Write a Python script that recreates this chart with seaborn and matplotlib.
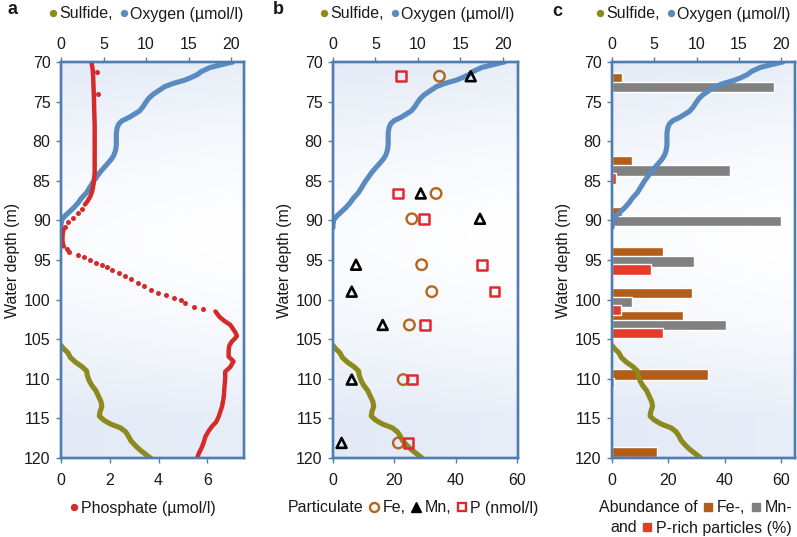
import numpy as np
import pandas as pd
import matplotlib
matplotlib.use("Agg")
import matplotlib.pyplot as plt
import seaborn as sns
from matplotlib.lines import Line2D

# ---------------- data ----------------
oxygen_depth = [70.0, 70.3, 70.7, 71.2, 71.6, 72.0, 72.3, 72.7, 73.1, 73.6, 74.1, 74.6,
                75.2, 75.7, 76.2, 76.6, 77.0, 77.4, 77.8, 78.3, 79.0, 79.8, 80.5, 81.2,
                81.8, 82.3, 82.8, 83.4, 83.9, 84.5, 85.1, 85.8, 86.5, 87.2, 87.8, 88.4,
                88.9, 89.4, 89.9, 90.5, 90.9]
oxygen = [20.2, 19.0, 17.5, 16.5, 16.0, 15.2, 14.5, 13.2, 12.2, 11.5, 10.8, 10.3,
          9.9, 9.6, 9.2, 8.6, 8.0, 7.2, 6.8, 6.6, 6.5, 6.5, 6.5, 6.4,
          6.2, 5.9, 5.5, 5.0, 4.6, 4.2, 3.8, 3.4, 3.0, 2.4, 2.0, 1.5,
          1.0, 0.5, 0.1, 0.0, 0.0]

sulfide_depth = [105.8, 106.2, 106.7, 107.3, 107.9, 108.5, 109.0, 109.6, 110.2, 110.8,
                 111.5, 112.2, 112.9, 113.5, 114.1, 114.7, 115.2, 115.7, 116.2, 116.7,
                 117.2, 117.8, 118.4, 119.0, 119.5, 120.0]
sulfide = [0.0, 0.3, 0.8, 1.1, 1.7, 2.5, 3.0, 3.1, 3.3, 3.6,
           4.1, 4.4, 4.7, 4.8, 4.6, 4.5, 5.0, 5.8, 7.0, 7.6,
           7.9, 8.2, 8.7, 9.3, 9.9, 10.5]

# phosphate (umol/l): dense profile segments and single measurement dots
phos_upper_depth = [70.0, 71.0, 72.0, 73.0, 74.5, 76.0, 78.0, 80.0, 82.0, 84.0,
                    85.5, 86.3, 87.0, 87.6, 88.0]
phos_upper = [1.25, 1.30, 1.32, 1.33, 1.35, 1.36, 1.38, 1.38, 1.38, 1.38,
              1.33, 1.28, 1.20, 1.08, 0.98]
phos_min_depth = [91.2, 91.7, 92.3, 92.9, 93.3]
phos_min = [0.10, 0.07, 0.06, 0.07, 0.12]
phos_lower_depth = [101.5, 102.2, 102.7, 103.2, 103.7, 104.1, 104.6, 105.0, 105.3,
                    105.8, 106.4, 107.2, 107.8, 108.5, 109.1, 110.0, 111.0, 112.3,
                    113.5, 114.8, 115.5, 116.0, 116.6, 117.3, 118.0, 118.6, 119.4, 120.0]
phos_lower = [6.33, 6.50, 6.70, 6.94, 7.05, 7.14, 7.21, 7.10, 7.00,
              6.90, 6.87, 6.87, 7.07, 6.94, 6.73, 6.73, 6.70, 6.67,
              6.60, 6.46, 6.35, 6.19, 6.05, 5.92, 5.85, 5.78, 5.65, 5.58]
phos_dot_depth = [71.2, 74.1, 88.5, 89.1, 89.7, 90.2, 90.8, 93.6, 93.95, 94.37, 94.66,
                  95.0, 95.34, 95.63, 95.92, 96.26, 96.68, 97.02, 97.44, 97.94, 98.28,
                  98.79, 99.13, 99.42, 99.76, 100.05, 100.47, 100.9, 101.23]
phos_dot = [1.48, 1.50, 0.88, 0.68, 0.48, 0.27, 0.16, 0.24, 0.34, 0.68, 0.95,
            1.20, 1.43, 1.70, 1.90, 2.11, 2.38, 2.61, 2.86, 3.16, 3.40,
            3.67, 3.97, 4.29, 4.65, 4.93, 5.10, 5.47, 5.82]

# particulate Fe, Mn, P (nmol/l)
part_depth = [71.8, 86.6, 89.8, 95.6, 99.0, 103.2, 110.1, 118.1]
part_fe = [34.7, 33.6, 25.7, 28.9, 32.2, 24.9, 22.9, 21.3]
part_mn = [44.9, 28.6, 47.9, 7.5, 6.1, 16.2, 6.1, 2.8]
part_p = [22.2, 21.1, 29.7, 48.5, 52.6, 30.0, 25.7, 24.6]

# abundance of Fe-, Mn- and P-rich particles (%)
abund_depth = [73.2, 83.7, 90.1, 95.2, 100.3, 103.2, 110.6, 120.4]
abund_fe = [3.4, 7.0, 3.4, 18.0, 28.5, 25.1, 34.1, 15.9]
abund_mn = [57.5, 41.9, 60.2, 29.2, 7.0, 40.4, 0.7, 0.0]
abund_p = [0.0, 1.3, 0.0, 13.7, 3.1, 18.2, 0.0, 0.0]

depth_ticks = [70, 75, 80, 85, 90, 95, 100, 105, 110, 115, 120]
oxygen_ticks = [0, 5, 10, 15, 20]
phos_ticks = [0, 2, 4, 6]
part_ticks = [0, 20, 40, 60]

# ---------------- style ----------------
sns.set_theme(style="white")
plt.rcParams["font.family"] = ["Liberation Sans", "DejaVu Sans"]

OLIVE = "#8d8a1d"
BLUE = "#5a8bc0"
RED = "#d42a2a"
FE_C = "#b5651d"
FE_BAR = "#b35d1a"
MN_BAR = "#808080"
P_BAR = "#e53b2a"
P_SQ = "#e0282e"
SPINE = "#4f7cb1"
TEXT = "#1a1a1a"
FS = 11.5

W, H = 797, 537
fig = plt.figure(figsize=(W / 100, H / 100), dpi=100)


def background(ax):
    yy = np.linspace(1, 0, 200)[:, None]
    xx = np.linspace(0, 1, 60)[None, :]
    f = np.clip(np.abs(yy - 0.55) / 0.45, 0, 1) ** 1.6 * 0.75 + (1 - xx) * 0.15
    f = np.clip(f, 0, 1)
    white = np.array([1.0, 1.0, 1.0])
    blue = np.array([0xe0, 0xe8, 0xf5]) / 255
    img = white + (blue - white) * f[..., None]
    ax.imshow(img, extent=[0, 1, 0, 1], transform=ax.transAxes, aspect="auto",
              zorder=0, interpolation="bilinear")


def make_panel(left, width):
    ax = fig.add_axes([left / W, 79 / H, width / W, 396 / H])
    tw = ax.twiny()
    background(ax)
    for a in (ax, tw):
        for s in a.spines.values():
            s.set_color(SPINE)
            s.set_linewidth(1.7)
        a.tick_params(colors=SPINE, labelcolor=TEXT, labelsize=FS, length=3.5, width=1.0)
    ax.set_ylim(120, 70)
    ax.set_yticks(depth_ticks)
    ax.yaxis.tick_left()
    ax.tick_params(axis="y", pad=4)
    return ax, tw


def set_top(a, xmax, ticks):
    a.xaxis.tick_top()
    a.xaxis.set_label_position("top")
    a.tick_params(axis="x", top=True, bottom=False, labeltop=True, labelbottom=False, pad=4)
    a.set_xlim(0, xmax)
    a.set_xticks(ticks)
    a.set_xlabel("")


def set_bottom(a, xmax, ticks):
    a.xaxis.tick_bottom()
    a.xaxis.set_label_position("bottom")
    a.tick_params(axis="x", bottom=True, top=False, labelbottom=True, labeltop=False, pad=7)
    a.set_xlim(0, xmax)
    a.set_xticks(ticks)
    a.set_xlabel("")


def draw_profiles(a):
    sns.lineplot(x=oxygen, y=oxygen_depth, orient="y", estimator=None, ax=a,
                 color=BLUE, lw=3.7, solid_capstyle="round")
    sns.lineplot(x=sulfide, y=sulfide_depth, orient="y", estimator=None, ax=a,
                 color=OLIVE, lw=3.7, solid_capstyle="round")
    a.set_ylabel("")


def finish_y(ax):
    ax.set_ylim(120, 70)
    ax.set_yticks(depth_ticks)
    ax.set_ylabel("Water depth (m)", fontsize=FS, color=TEXT, labelpad=3)


# ---------- panel a ----------
axA, twA = make_panel(61, 183)
draw_profiles(axA)
for dep, val in ((phos_upper_depth, phos_upper), (phos_min_depth, phos_min),
                 (phos_lower_depth, phos_lower)):
    sns.lineplot(x=val, y=dep, orient="y", estimator=None, ax=twA, color=RED,
                 lw=3.2, solid_capstyle="round")
sns.scatterplot(x=phos_dot, y=phos_dot_depth, ax=twA, color=RED, s=13, linewidth=0)
set_top(axA, 21.5, oxygen_ticks)
set_bottom(twA, 7.5, phos_ticks)
twA.set_ylabel("")
finish_y(axA)

# ---------- panel b ----------
axB, twB = make_panel(333, 185)
draw_profiles(axB)
sns.scatterplot(x=part_fe, y=part_depth, ax=twB, marker="o", s=58,
                facecolor="none", edgecolor=FE_C, linewidth=1.7)
sns.scatterplot(x=part_mn, y=part_depth, ax=twB, marker="^", s=50,
                facecolor="none", edgecolor="black", linewidth=1.9)
sns.scatterplot(x=part_p, y=part_depth, ax=twB, marker="s", s=48,
                facecolor="none", edgecolor=P_SQ, linewidth=1.8)
set_top(axB, 21.8, oxygen_ticks)
set_bottom(twB, 60.3, part_ticks)
twB.set_ylabel("")
finish_y(axB)

# ---------- panel c ----------
axC, twC = make_panel(612, 183)
dep = np.asarray(abund_depth)
bh = 1.3
axC.barh(dep - 1.15, abund_fe, height=bh, color=FE_BAR, zorder=2)
axC.barh(dep, abund_mn, height=bh, color=MN_BAR, zorder=2)
axC.barh(dep + 1.0, abund_p, height=bh, color=P_BAR, zorder=2)
draw_profiles(twC)
set_bottom(axC, 65, part_ticks)
set_top(twC, 21.65, oxygen_ticks)
twC.set_ylabel("")
finish_y(axC)

# ---------- panel letters ----------
for x, y, s in ((13, 10, "a"), (278, 9, "b"), (557, 11, "c")):
    fig.text(x / W, 1 - y / H, s, fontsize=13, fontweight="bold", color=TEXT,
             ha="center", va="center")

# ---------- legends ----------
LEG = dict(frameon=False, fontsize=FS, handlelength=0.5, handletextpad=0.15,
           columnspacing=0.45, borderpad=0, borderaxespad=0, labelcolor=TEXT)


def dot(c, ms=4.3):
    return Line2D([], [], ls="", marker="o", ms=ms, color=c)


blank = Line2D([], [], ls="", marker="")

for cx in (146, 417, 693):
    fig.legend([dot(OLIVE), dot(BLUE)], ["Sulfide,", "Oxygen (\u00b5mol/l)"],
               loc="center", bbox_to_anchor=(cx / W, 1 - 14 / H), ncol=2, **LEG)

fig.legend([dot(RED)], ["Phosphate (\u00b5mol/l)"], loc="center",
           bbox_to_anchor=(143 / W, 1 - 508 / H), ncol=1, **LEG)

LEG2 = {**LEG, "handlelength": 0.7, "columnspacing": 0.3, "handletextpad": 0.2}
hb = [blank,
      Line2D([], [], ls="", marker="o", ms=6.5, mfc="none", mec=FE_C, mew=1.7),
      Line2D([], [], ls="", marker="^", ms=6.5, color="black"),
      Line2D([], [], ls="", marker="s", ms=6.2, mfc="none", mec=P_SQ, mew=1.7)]
fig.legend(hb, ["Particulate", "Fe,", "Mn,", "P (nmol/l)"], loc="center",
           bbox_to_anchor=(406 / W, 1 - 508 / H), ncol=4, **LEG2)

sq = dict(ls="", marker="s", ms=6.3)
fig.legend([blank, Line2D([], [], color=FE_BAR, **sq), Line2D([], [], color=MN_BAR, **sq)],
           ["Abundance of", "Fe-,", "Mn-"], loc="center right",
           bbox_to_anchor=(792 / W, 1 - 508 / H), ncol=3, **LEG2)
fig.legend([blank, Line2D([], [], color=P_BAR, **sq)],
           ["and", "P-rich particles (%)"], loc="center right",
           bbox_to_anchor=(792 / W, 1 - 528 / H), ncol=2, **LEG2)

fig.savefig("out.png", dpi=100)
